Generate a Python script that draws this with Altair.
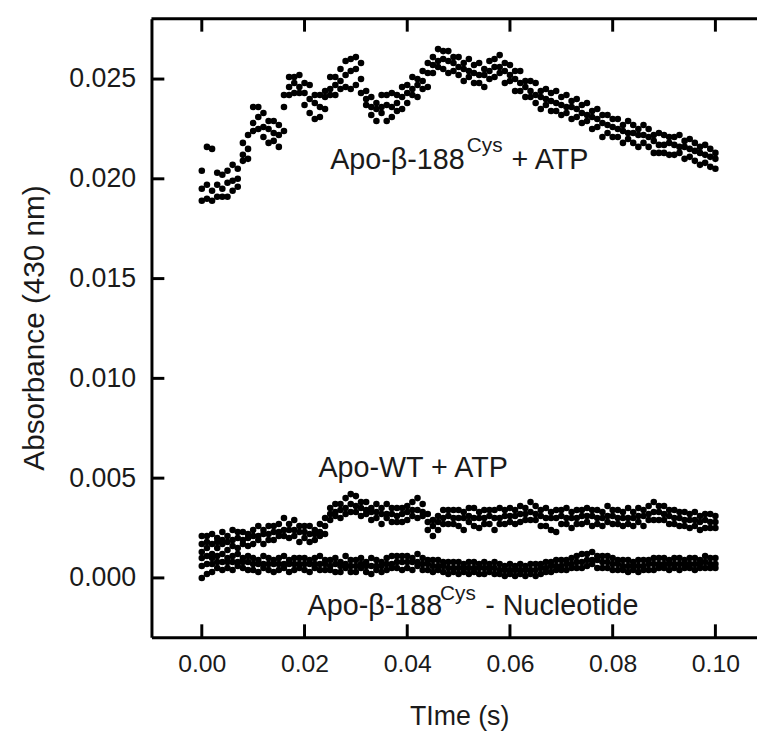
import altair as alt
import pandas as pd

# ---------------- data (absorbance values are in units of 1e-4) ----------------
TIME_MS = [0, 1, 2, 3, 4, 5, 6, 7, 8, 9,
           10, 11, 12, 13, 14, 15, 16, 17, 18, 19,
           20, 21, 22, 23, 24, 25, 26, 27, 28, 29,
           30, 31, 32, 33, 34, 35, 36, 37, 38, 39,
           40, 41, 42, 43, 44, 45, 46, 47, 48, 49,
           50, 51, 52, 53, 54, 55, 56, 57, 58, 59,
           60, 61, 62, 63, 64, 65, 66, 67, 68, 69,
           70, 71, 72, 73, 74, 75, 76, 77, 78, 79,
           80, 81, 82, 83, 84, 85, 86, 87, 88, 89,
           90, 91, 92, 93, 94, 95, 96, 97, 98, 99,
           100]

# Apo-beta-188Cys + ATP (three overlapping traces)
CYS_ATP_A = [204, 216, 215, 203, 202, 204, 207, 205, 218, 222,
             236, 236, 233, 229, 229, 227, 242, 251, 251, 252,
             248, 247, 242, 242, 244, 251, 251, 255, 259, 260,
             261, 258, 244, 241, 238, 242, 242, 243, 242, 246,
             247, 251, 250, 254, 258, 261, 265, 264, 264, 261,
             261, 258, 260, 257, 258, 255, 259, 260, 262, 258,
             257, 254, 254, 249, 249, 248, 244, 245, 243, 244,
             241, 242, 239, 240, 237, 238, 234, 235, 232, 232,
             230, 230, 227, 229, 227, 225, 227, 225, 222, 223,
             222, 221, 221, 222, 219, 220, 218, 216, 217, 215,
             213]
CYS_ATP_B = [195, 197, 194, 197, 195, 198, 199, 200, 212, 215,
             228, 231, 226, 225, 223, 222, 236, 246, 248, 246,
             243, 240, 238, 236, 241, 245, 247, 249, 252, 254,
             255, 250, 240, 236, 235, 236, 237, 236, 238, 241,
             243, 245, 247, 249, 253, 257, 259, 260, 259, 258,
             256, 255, 254, 253, 252, 252, 254, 256, 256, 254,
             252, 250, 248, 246, 244, 242, 241, 240, 239, 238,
             237, 236, 236, 235, 233, 232, 231, 230, 228, 227,
             226, 225, 224, 223, 223, 222, 222, 221, 219, 217,
             217, 218, 217, 216, 216, 215, 214, 213, 212, 211,
             210]
CYS_ATP_C = [189, 190, 189, 191, 191, 191, 194, 196, 209, 210,
             224, 225, 221, 218, 219, 216, 224, 242, 243, 243,
             237, 233, 230, 231, 235, 242, 242, 245, 246, 245,
             247, 243, 237, 232, 229, 233, 229, 231, 234, 235,
             238, 242, 241, 245, 246, 253, 256, 255, 253, 254,
             252, 249, 251, 248, 248, 246, 250, 251, 253, 248,
             249, 244, 244, 241, 241, 238, 235, 237, 234, 234,
             232, 233, 230, 231, 228, 229, 225, 226, 221, 223,
             221, 221, 218, 220, 218, 216, 218, 216, 213, 213,
             213, 212, 212, 213, 210, 211, 209, 207, 208, 206,
             205]

# Apo-WT + ATP
WT_ATP_A = [21, 21, 22, 20, 23, 21, 24, 23, 23, 22,
            24, 26, 24, 26, 26, 27, 30, 27, 29, 26,
            26, 26, 24, 27, 30, 35, 37, 37, 40, 42,
            41, 38, 38, 35, 37, 35, 37, 35, 35, 35,
            36, 38, 40, 37, 32, 29, 31, 34, 34, 34,
            34, 33, 35, 35, 33, 34, 34, 34, 35, 34,
            35, 34, 36, 35, 38, 36, 34, 35, 33, 34,
            34, 35, 33, 34, 34, 35, 34, 34, 33, 36,
            34, 34, 33, 35, 33, 35, 34, 36, 38, 36,
            36, 34, 34, 33, 33, 32, 33, 31, 32, 32,
            31]
WT_ATP_B = [17, 18, 17, 18, 19, 18, 19, 20, 19, 20,
            21, 21, 22, 22, 23, 23, 24, 24, 24, 23,
            23, 22, 22, 23, 26, 32, 33, 34, 35, 37,
            36, 35, 34, 33, 33, 32, 32, 32, 31, 32,
            33, 34, 34, 33, 28, 26, 28, 30, 31, 30,
            30, 30, 31, 30, 30, 30, 31, 30, 30, 31,
            31, 31, 32, 32, 33, 32, 31, 30, 30, 30,
            31, 30, 30, 30, 31, 31, 31, 30, 30, 31,
            31, 30, 30, 30, 30, 31, 31, 32, 33, 33,
            32, 31, 30, 30, 29, 29, 29, 28, 29, 28,
            28]
WT_ATP_C = [13, 15, 12, 15, 17, 14, 16, 15, 17, 16,
            17, 19, 17, 19, 19, 21, 21, 20, 21, 18,
            20, 18, 19, 21, 22, 29, 31, 30, 32, 33,
            33, 31, 32, 29, 30, 27, 30, 28, 28, 28,
            29, 31, 30, 31, 24, 21, 24, 27, 27, 27,
            26, 24, 28, 26, 25, 27, 27, 24, 27, 27,
            28, 27, 28, 29, 29, 29, 26, 26, 24, 23,
            27, 27, 25, 27, 27, 28, 26, 27, 26, 28,
            27, 27, 26, 27, 26, 28, 26, 29, 29, 29,
            29, 27, 27, 26, 26, 25, 26, 24, 25, 25,
            25]

# Apo-beta-188Cys - Nucleotide
CYS_NONE_A = [10, 11, 10, 11, 12, 10, 11, 12, 10, 11,
              10, 9, 11, 10, 9, 10, 11, 9, 10, 10,
              10, 9, 10, 11, 9, 9, 10, 8, 11, 9,
              9, 10, 8, 10, 9, 8, 10, 11, 11, 11,
              11, 10, 12, 10, 9, 9, 9, 8, 8, 8,
              8, 7, 8, 8, 7, 8, 7, 8, 7, 6,
              7, 6, 7, 6, 7, 7, 7, 8, 8, 9,
              9, 9, 10, 11, 12, 12, 13, 11, 11, 11,
              10, 9, 9, 9, 8, 9, 9, 9, 10, 10,
              10, 9, 10, 10, 9, 10, 10, 9, 11, 10,
              10]
CYS_NONE_B = [6, 7, 7, 8, 8, 8, 8, 8, 8, 8,
              7, 7, 7, 7, 7, 7, 7, 7, 7, 7,
              7, 7, 7, 7, 7, 6, 7, 6, 7, 6,
              6, 7, 6, 6, 6, 6, 7, 7, 8, 8,
              8, 8, 8, 7, 7, 6, 6, 6, 5, 5,
              5, 5, 5, 5, 5, 5, 5, 5, 4, 4,
              4, 4, 4, 4, 4, 4, 5, 5, 6, 6,
              6, 7, 7, 8, 8, 9, 9, 9, 8, 8,
              7, 7, 6, 6, 6, 6, 6, 7, 7, 7,
              7, 7, 7, 7, 7, 7, 7, 7, 8, 7,
              7]
CYS_NONE_C = [0, 2, 3, 5, 4, 5, 4, 6, 5, 4,
              4, 3, 5, 4, 3, 4, 5, 3, 4, 5,
              4, 3, 5, 4, 4, 4, 3, 3, 5, 3,
              3, 5, 3, 2, 4, 3, 4, 5, 5, 4,
              5, 4, 6, 4, 4, 3, 4, 3, 2, 3,
              2, 3, 2, 3, 2, 2, 3, 2, 2, 1,
              2, 1, 2, 1, 2, 1, 2, 3, 3, 4,
              4, 4, 5, 5, 5, 6, 7, 5, 5, 5,
              4, 4, 4, 3, 4, 3, 4, 4, 4, 5,
              5, 4, 5, 4, 5, 5, 4, 5, 5, 5,
              5]

UNIT = 1e-4  # the lists above are absorbance x 10^4

X_TICKS = [0.00, 0.02, 0.04, 0.06, 0.08, 0.10]
Y_TICKS = [0.000, 0.005, 0.010, 0.015, 0.020, 0.025]

# annotation pieces (data coordinates: time s, absorbance)
ANN_MAIN_TEXT = ["Apo-β-188", "+ ATP", "Apo-WT + ATP", "Apo-β-188", "- Nucleotide"]
ANN_MAIN_T = [0.0250, 0.0603, 0.0227, 0.0206, 0.0552]
ANN_MAIN_A = [0.0205, 0.0205, 0.00505, -0.00187, -0.00187]
ANN_SUP_TEXT = ["Cys", "Cys"]
ANN_SUP_T = [0.0516, 0.0464]
ANN_SUP_A = [0.02134, -0.00112]

# ---------------- build tables ----------------
SERIES = {
    "Apo-β-188Cys + ATP": [CYS_ATP_A, CYS_ATP_B, CYS_ATP_C],
    "Apo-WT + ATP": [WT_ATP_A, WT_ATP_B, WT_ATP_C],
    "Apo-β-188Cys - Nucleotide": [CYS_NONE_A, CYS_NONE_B, CYS_NONE_C],
}
rows = []
for name, traces in SERIES.items():
    for trace in traces:
        for t, v in zip(TIME_MS, trace, strict=True):
            rows.append({"t": t / 1000.0, "a": v * UNIT, "series": name})
df = pd.DataFrame(rows)

W, H = 612, 625
FONT = "Liberation Sans"
TXT = "#1a1a1a"
xs = alt.Scale(domain=[-0.0098, 0.1081], nice=False, zero=False)
ys = alt.Scale(domain=[-0.00297, 0.02802], nice=False, zero=False)

x_axis = alt.Axis(
    title="TIme (s)", values=X_TICKS, format=".2f", ticks=False, grid=False,
    domainColor="black", domainWidth=3,
    labelFont=FONT, labelFontSize=25, labelColor=TXT, labelPadding=15,
    titleFont=FONT, titleFontSize=27, titleFontWeight="normal", titleColor=TXT,
    titleX=311, titleY=80, titleBaseline="middle", titleAlign="center",
)
y_axis = alt.Axis(
    title="Absorbance (430 nm)", values=Y_TICKS, format=".3f", ticks=False, grid=False,
    domainColor="black", domainWidth=3,
    labelFont=FONT, labelFontSize=27, labelColor=TXT, labelPadding=16,
    titleFont=FONT, titleFontSize=30, titleFontWeight="normal", titleColor=TXT,
    titleX=-118, titleY=312, titleAngle=270, titleBaseline="middle", titleAlign="center",
)
X = alt.X("t:Q", scale=xs, axis=x_axis)
Y = alt.Y("a:Q", scale=ys, axis=y_axis)

points = alt.Chart(df).mark_circle(size=44, color="black", opacity=1).encode(
    x=X, y=Y, detail="series:N",
)

xt = pd.DataFrame({"t": X_TICKS})
yt = pd.DataFrame({"a": Y_TICKS})
one = pd.DataFrame({"k": [0]})

bottom_ticks = alt.Chart(xt).mark_rule(color="black", strokeWidth=3).encode(
    x=X, y=alt.value(H), y2=alt.value(H - 13))
top_ticks = alt.Chart(xt).mark_rule(color="black", strokeWidth=3).encode(
    x=X, y=alt.value(0), y2=alt.value(13))
left_ticks = alt.Chart(yt).mark_rule(color="black", strokeWidth=3).encode(
    y=Y, x=alt.value(0), x2=alt.value(13))
top_frame = alt.Chart(one).mark_rule(color="black", strokeWidth=3).encode(
    x=alt.value(0), x2=alt.value(W), y=alt.value(0))

ann_main = pd.DataFrame({"t": ANN_MAIN_T, "a": ANN_MAIN_A, "label": ANN_MAIN_TEXT})
ann_sup = pd.DataFrame({"t": ANN_SUP_T, "a": ANN_SUP_A, "label": ANN_SUP_TEXT})

main_text = alt.Chart(ann_main).mark_text(
    align="left", baseline="alphabetic", font=FONT, fontSize=29, color=TXT
).encode(x=X, y=Y, text="label:N")
sup_text = alt.Chart(ann_sup).mark_text(
    align="left", baseline="alphabetic", font=FONT, fontSize=21, color=TXT
).encode(x=X, y=Y, text="label:N")

chart = alt.layer(points, bottom_ticks, top_ticks, left_ticks, top_frame, main_text, sup_text).properties(
    width=W, height=H,
    padding={"left": 145, "top": 7, "right": 0, "bottom": 98},
    autosize=alt.AutoSizeParams(type="none"),
    background="white",
).configure_view(stroke=None)

chart.save("out.html", embed_options={"renderer": "svg", "actions": False})
